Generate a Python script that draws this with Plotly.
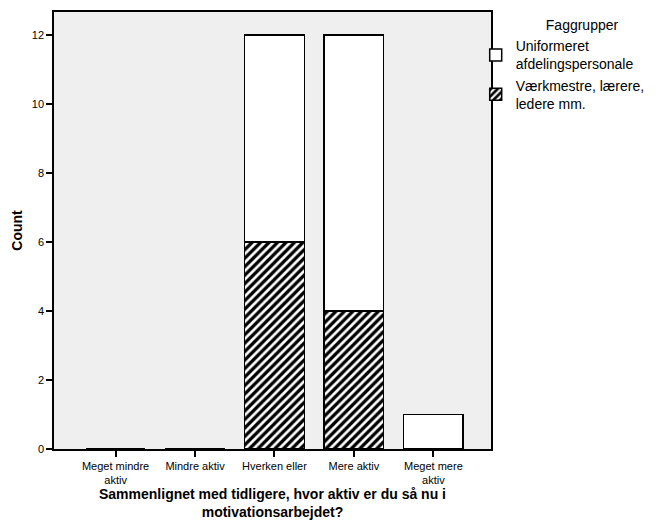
import plotly.graph_objects as go

# categories on the x axis
categories = [
    "Meget mindre<br>aktiv",
    "Mindre aktiv",
    "Hverken eller",
    "Mere aktiv",
    "Meget mere<br>aktiv",
]
# counts per group (stacked)
vaerkmestre = [0, 0, 6, 4, 0]
uniformeret = [0, 0, 6, 8, 1]
y_ticks = [0, 2, 4, 6, 8, 10, 12]

FONT = "Arial, Liberation Sans, sans-serif"

fig = go.Figure()

# bottom segment: hatched
fig.add_trace(go.Bar(
    x=categories, y=vaerkmestre,
    name="Værkmestre, lærere,<br>ledere mm.",
    width=0.75,
    marker=dict(
        color="black",
        line=dict(color="black", width=1.5),
        pattern=dict(shape="/", fgcolor="white", bgcolor="black",
                     size=6, solidity=0.45, fgopacity=1),
    ),
))

# top segment: white
fig.add_trace(go.Bar(
    x=categories, y=uniformeret,
    name="Uniformeret<br>afdelingspersonale",
    width=0.75,
    marker=dict(color="white", line=dict(color="black", width=1.5)),
))

fig.update_layout(
    barmode="stack",
    width=662, height=521,
    paper_bgcolor="white",
    plot_bgcolor="#efefef",
    font=dict(family=FONT, color="black", size=11),
    margin=dict(l=54, r=168, t=12, b=72),
    legend=dict(
        title=dict(text="          Faggrupper", side="top center", font=dict(size=14)),
        x=0.965, xanchor="left", xref="paper",
        y=1.0, yanchor="top",
        traceorder="reversed",
        font=dict(size=14),
        bgcolor="rgba(0,0,0,0)",
        itemwidth=30,
        tracegroupgap=0,
    ),
)

fig.update_xaxes(
    range=[-0.775, 4.725],
    automargin=False,
    showline=True, linecolor="black", linewidth=1.5, mirror=True,
    ticks="outside", ticklen=6, tickwidth=1.5, tickcolor="black",
    tickfont=dict(size=11),
    showgrid=False,
    title=dict(
        text="<b>Sammenlignet med tidligere, hvor aktiv er du så nu i<br>motivationsarbejdet?</b>",
        font=dict(size=14), standoff=0,
    ),
)

fig.update_yaxes(
    range=[0, 12.66],
    tickvals=y_ticks,
    automargin=False,
    showline=True, linecolor="black", linewidth=1.5, mirror=True,
    ticks="outside", ticklen=6, tickwidth=1.5, tickcolor="black",
    tickfont=dict(size=11),
    showgrid=False, zeroline=False,
    title=dict(text="<b>Count</b>", font=dict(size=14), standoff=6),
)

# drop the default page margin so the figure sits at the window's corner
fig.write_html("out.html", config={"displayModeBar": False},
               post_script="document.body.style.margin='0';")
